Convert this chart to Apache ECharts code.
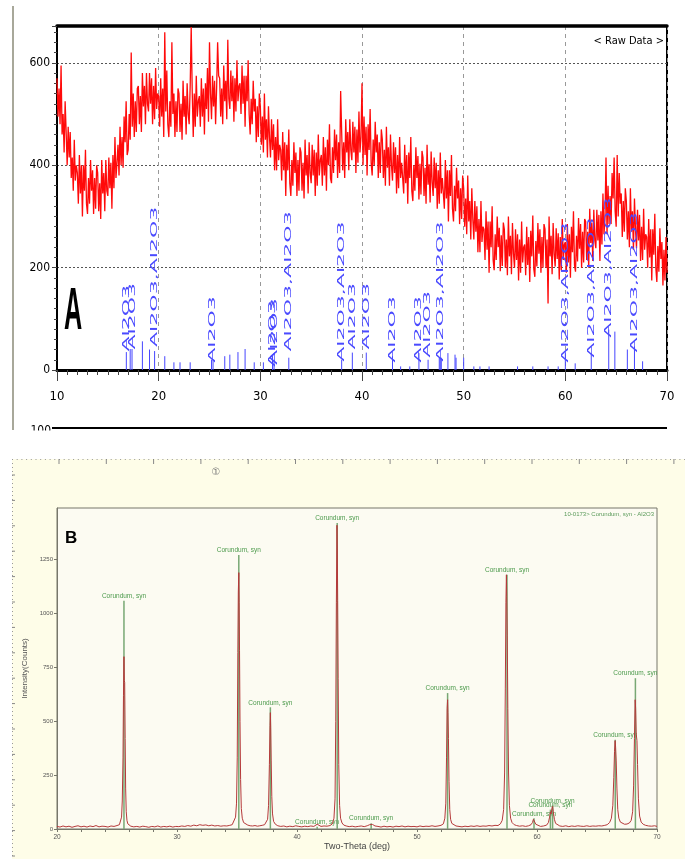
<!DOCTYPE html>
<html>
<head>
<meta charset="utf-8">
<script src="https://cdn.jsdelivr.net/npm/echarts/dist/echarts.min.js"></script>
<style>
html, body { margin: 0; padding: 0; background: #fff; }
#chart { width: 685px; height: 859px; }
</style>
</head>
<body>
<div id="chart"></div>
<script>
// ---- panel A: raw scan, 10..70 deg, step 0.1 ----
const rawStart = 10
const rawStep = 0.1
const rawCounts = [
  570,495,550,480,595,460,500,425,525,465,
  400,475,415,465,375,415,350,450,370,400,
  385,325,420,345,400,300,400,350,430,325,
  305,375,325,410,350,390,305,375,315,400,
  385,310,365,295,410,345,385,310,410,350,
  340,415,355,405,315,420,355,455,375,405,
  440,380,475,400,455,395,495,445,525,420,
  430,500,450,620,475,540,455,525,465,550,
  555,480,535,465,580,515,555,480,580,520,
  505,580,520,570,480,555,490,590,510,540,
  535,475,570,495,550,455,660,505,585,480,
  455,525,475,640,500,540,455,525,465,550,
  540,465,520,450,565,495,535,460,560,500,
  480,555,670,545,455,540,475,575,495,525,
  535,475,570,495,550,460,560,510,590,485,
  640,540,490,575,515,565,480,550,640,575,
  570,495,550,480,595,525,565,490,645,530,
  510,585,525,575,485,570,505,605,525,555,
  560,500,595,520,575,475,575,525,605,500,
  460,530,480,565,505,530,445,515,455,540,
  515,440,495,425,540,450,490,415,515,455,
  415,490,430,480,390,455,390,490,410,440,
  430,370,465,390,445,340,440,390,470,365,
  340,410,360,445,385,425,340,410,350,435,
  425,350,405,335,450,380,420,345,445,385,
  365,440,380,430,340,425,360,460,380,410,
  420,360,455,380,435,350,450,400,480,375,
  365,435,385,470,410,460,375,445,385,545,
  465,390,445,375,490,425,465,390,490,430,
  410,485,425,475,385,470,405,505,425,455,
  560,400,495,420,475,380,480,430,510,405,
  380,450,400,485,425,460,375,445,385,470,
  450,375,430,360,475,395,435,360,460,400,
  370,445,385,435,345,420,355,455,375,405,
  405,345,440,365,420,325,425,375,455,350,
  330,400,350,435,375,418,333,403,343,428,
  415,340,395,325,440,362,402,327,427,367,
  340,415,355,405,315,390,325,425,345,375,
  375,315,410,335,390,290,390,340,420,315,
  290,360,310,395,335,370,285,355,295,380,
  355,280,335,265,380,290,330,255,355,295,
  255,330,270,320,230,295,230,330,250,280,
  275,215,310,235,290,190,290,240,320,215,
  195,265,215,300,240,278,193,263,203,288,
  275,200,255,185,300,222,262,187,287,227,
  200,275,215,265,175,255,190,290,210,240,
  245,185,280,205,260,172,272,222,302,197,
  182,252,202,287,227,275,190,260,200,285,
  275,200,255,130,300,222,262,187,287,227,
  202,277,217,267,177,260,195,295,215,245,
  250,190,285,210,265,180,280,230,310,205,
  192,262,212,297,237,285,200,270,210,295,
  290,215,270,200,315,248,288,213,313,253,
  238,313,253,303,213,310,245,345,265,295,
  415,265,360,285,340,285,385,335,415,310,
  280,420,300,385,325,345,260,330,270,355,
  330,255,310,240,355,270,310,235,335,275,
  238,313,253,303,213,280,215,315,235,265,
  260,200,295,220,275,175,275,225,305,200,
  172,242,192,277,217,250,165,235,175,260,
  190
]

// reference pattern sticks (Al2O3)
const refPosA = [16.82,17.2,17.38,18.4,19.1,19.6,20.6,21.5,22.1,23.1,25.2,25.35,26.5,27.0,27.8,28.5,29.4,30.3,31.2,31.35,32.8,
  38.0,39.05,40.42,43.0,43.8,44.7,45.6,46.5,47.6,47.7,47.8,48.45,49.15,49.25,50.0,51.0,51.6,52.5,55.3,56.8,58.3,59.3,
  60.0,60.97,62.55,64.27,64.87,66.1,66.8,67.6]
const refIntA = [35,41,41,56,40,37,27,15,15,15,20,20,27,30,35,41,15,15,27,20,24,
  20,34,34,27,7,7,33,20,24,24,24,33,30,24,24,7,7,7,7,7,7,7,
  33,13,33,79,75,40,46,17]

// phase labels
const labelPosA = [16.85,17.4,19.65,25.3,31.2,31.4,32.8,38.0,39.05,40.42,43.0,45.6,46.5,47.7,60.0,62.55,64.27,66.8]
const labelBaseA = [36,40,45,14,6,10,36,16,40,40,14,14,24,16,14,24,63,34]
const labelTextA = ['Al2O3','Al2O3','Al2O3,Al2O3','Al2O3','Al2O3','Al2O3','Al2O3,Al2O3','Al2O3,Al2O3','Al2O3','Al2O3',
  'Al2O3','Al2O3','Al2O3','Al2O3,Al2O3','Al2O3,Al2O3','Al2O3,Al2O3','Al2O3,Al2O3','Al2O3,Al2O3']

// ---- panel B: processed scan [two-theta, counts] ----
const scanB = [
  [20,12],[20.25,9],[20.5,14],[20.75,10],[21,13],[21.25,8],[21.5,12],[21.75,15],[22,10],[22.25,13],[22.5,9],[22.75,14],
  [23,11],[23.25,16],[23.5,10],[23.75,13],[24,12],[24.25,9],[24.5,14],[24.75,12],[25,16],[25.2,20],[25.3,28],[25.38,55],
  [25.44,130],[25.5,330],[25.54,620],[25.58,800],[25.61,690],[25.64,680],[25.68,420],[25.72,190],[25.77,80],[25.83,40],
  [25.9,24],[26.0,17],[26.15,13],[26.4,10],[26.65,12],[26.9,9],[27.15,13],[27.4,11],[27.65,8],[27.9,12],[28.15,10],
  [28.4,14],[28.65,9],[28.9,12],[29.15,10],[29.4,13],[29.65,9],[29.9,12],[30.15,11],[30.4,14],[30.65,12],[30.9,16],
  [31.15,13],[31.4,18],[31.65,15],[31.9,20],[32.15,17],[32.4,19],[32.65,15],[32.9,18],[33.15,14],[33.4,16],[33.65,13],
  [33.9,15],[34.15,14],[34.4,17],[34.6,20],[34.75,28],[34.88,55],[34.96,120],[35.02,330],[35.07,820],[35.11,1100],
  [35.15,1190],[35.18,1050],[35.21,830],[35.25,500],[35.3,230],[35.36,95],[35.44,50],[35.55,30],[35.7,22],[35.9,18],
  [36.1,15],[36.3,14],[36.5,16],[36.7,13],[36.9,15],[37.1,17],[37.3,20],[37.45,28],[37.55,45],[37.63,110],[37.7,300],
  [37.75,480],[37.78,540],[37.81,470],[37.85,320],[37.9,150],[37.96,70],[38.05,35],[38.2,22],[38.4,15],[38.65,12],
  [38.9,14],[39.15,10],[39.4,13],[39.65,11],[39.9,15],[40.15,12],[40.4,10],[40.65,13],[40.9,11],[41.15,14],[41.4,12],
  [41.55,16],[41.68,22],[41.8,15],[42.0,12],[42.25,14],[42.5,13],[42.75,16],[42.95,24],[43.08,50],[43.17,140],
  [43.23,500],[43.28,1050],[43.33,1410],[43.36,1300],[43.39,1060],[43.43,700],[43.48,300],[43.55,110],[43.63,50],
  [43.75,28],[43.9,18],[44.1,14],[44.35,11],[44.6,13],[44.85,10],[45.1,12],[45.35,14],[45.6,11],[45.85,15],[46.05,20],
  [46.18,26],[46.3,21],[46.5,14],[46.75,12],[47.0,9],[47.25,13],[47.5,10],[47.75,12],[48.0,9],[48.25,13],[48.5,11],
  [48.75,14],[49.0,10],[49.25,13],[49.5,11],[49.75,12],[50.0,10],[50.25,14],[50.5,11],[50.75,13],[51.0,12],[51.25,15],
  [51.5,12],[51.75,14],[52.0,17],[52.2,24],[52.32,50],[52.4,120],[52.46,330],[52.51,560],[52.55,600],[52.58,540],
  [52.62,420],[52.67,220],[52.73,90],[52.8,45],[52.9,26],[53.05,18],[53.25,14],[53.5,12],[53.75,10],[54.0,13],
  [54.25,11],[54.5,14],[54.75,12],[55.0,15],[55.25,12],[55.5,14],[55.75,13],[56.0,16],[56.25,14],[56.5,17],[56.75,16],
  [56.95,24],[57.1,40],[57.22,90],[57.3,260],[57.36,650],[57.41,1050],[57.45,1180],[57.48,1080],[57.52,900],
  [57.57,560],[57.63,260],[57.7,110],[57.8,50],[57.92,30],[58.1,20],[58.3,16],[58.55,13],[58.8,15],[59.05,12],
  [59.3,15],[59.5,20],[59.62,30],[59.7,45],[59.75,52],[59.8,40],[59.9,22],[60.05,15],[60.3,12],[60.55,14],[60.8,18],
  [60.95,30],[61.05,55],[61.12,80],[61.18,70],[61.24,95],[61.3,105],[61.36,80],[61.45,45],[61.55,26],[61.7,17],
  [61.9,14],[62.15,12],[62.4,15],[62.65,11],[62.9,14],[63.15,12],[63.4,15],[63.65,13],[63.9,12],[64.15,15],[64.4,12],
  [64.65,14],[64.9,13],[65.15,15],[65.4,14],[65.65,17],[65.85,20],[66.05,30],[66.2,50],[66.32,110],[66.4,240],
  [66.46,360],[66.51,410],[66.55,380],[66.6,320],[66.66,190],[66.73,90],[66.82,50],[66.95,32],[67.1,25],[67.3,22],
  [67.5,23],[67.7,28],[67.85,40],[67.97,80],[68.05,200],[68.12,420],[68.18,600],[68.22,560],[68.27,440],[68.33,410],
  [68.38,300],[68.45,140],[68.55,60],[68.68,32],[68.85,22],[69.05,17],[69.3,14],[69.55,13],[69.8,15],[70,12]
]

// Corundum reference lines (10-0173)
const peakPosB = [25.58,35.15,37.78,41.68,43.35,46.18,52.55,57.5,59.75,61.12,61.3,66.52,68.2]
const peakIntB = [1060,1272,565,10,1420,27,631,1180,50,90,110,414,700]
const peakName = 'Corundum, syn'

const narrow = '"Liberation Sans Narrow", "DejaVu Sans Condensed", "Liberation Sans", sans-serif'

const chart = echarts.init(document.getElementById('chart'))

// decoration of the B frame (rulers)
const deco = []
deco.push({ type: 'rect', z: -10, silent: true, shape: { x: 12, y: 459, width: 673, height: 400 }, style: { fill: '#fefde8' } })
deco.push({ type: 'line', silent: true, shape: { x1: 12, y1: 459.5, x2: 685, y2: 459.5 }, style: { stroke: '#999', lineWidth: 1, lineDash: [1, 3.7] } })
deco.push({ type: 'line', silent: true, shape: { x1: 12.5, y1: 459, x2: 12.5, y2: 859 }, style: { stroke: '#999', lineWidth: 1, lineDash: [1, 3] } })
for (let x = 59; x < 685; x += 47.3) {
  deco.push({ type: 'line', silent: true, shape: { x1: x, y1: 459, x2: x, y2: 464 }, style: { stroke: '#888', lineWidth: 1 } })
}
for (let y = 475; y < 859; y += 25.4) {
  deco.push({ type: 'line', silent: true, shape: { x1: 12, y1: y, x2: 15, y2: y }, style: { stroke: '#888', lineWidth: 1 } })
}

const option = {
  animation: false,
  backgroundColor: '#fff',
  grid: [
    { left: 57, top: 26, width: 610, height: 344, show: true, borderColor: '#000', borderWidth: 2, backgroundColor: '#fff' },
    { left: 57, top: 508, width: 600, height: 321, show: true, borderColor: '#77776b', borderWidth: 1, backgroundColor: '#fcfbf2' }
  ],
  xAxis: [
    {
      gridIndex: 0, type: 'value', min: 10, max: 70, interval: 10,
      axisLine: { lineStyle: { color: '#000', width: 3 } },
      axisTick: { length: 11, lineStyle: { color: '#444' } },
      minorTick: { show: true, splitNumber: 10, length: 5, lineStyle: { color: '#444' } },
      axisLabel: { margin: 20, fontSize: 13, color: '#000', fontFamily: narrow },
      splitLine: { show: true, lineStyle: { color: '#999', type: [4, 4] } }
    },
    {
      gridIndex: 0, type: 'value', position: 'top', min: 10, max: 70,
      axisLine: { lineStyle: { color: '#000', width: 3.5 } },
      axisTick: { show: false }, axisLabel: { show: false }, splitLine: { show: false }
    },
    {
      gridIndex: 1, type: 'value', min: 20, max: 70, interval: 10,
      name: 'Two-Theta (deg)', nameLocation: 'middle', nameGap: 13,
      nameTextStyle: { fontSize: 9, color: '#444', fontFamily: 'Liberation Sans' },
      axisLine: { lineStyle: { color: '#77776b', width: 1 } },
      axisTick: { length: 3, lineStyle: { color: '#77776b' } },
      minorTick: { show: true, splitNumber: 5, length: 3, lineStyle: { color: '#77776b' } },
      axisLabel: { margin: 5, fontSize: 6.5, color: '#555' },
      splitLine: { show: false }
    }
  ],
  yAxis: [
    {
      gridIndex: 0, type: 'value', min: 0, max: 672, interval: 200,
      axisLine: { show: true, lineStyle: { color: '#000', width: 2 } },
      axisTick: { show: true, length: 5, lineStyle: { color: '#444' } },
      minorTick: { show: true, splitNumber: 10, length: 3, lineStyle: { color: '#444' } },
      axisLabel: { margin: 7, fontSize: 12, color: '#000', fontFamily: narrow, showMaxLabel: false },
      splitLine: { show: true, lineStyle: { color: '#555', type: [2, 2] } }
    },
    {
      gridIndex: 1, type: 'value', min: 0, max: 1490, interval: 250,
      name: 'Intensity(Counts)', nameLocation: 'middle', nameGap: 20,
      nameTextStyle: { fontSize: 8, color: '#555', fontFamily: 'Liberation Sans' },
      axisLine: { show: true, lineStyle: { color: '#77776b', width: 1 } },
      axisTick: { show: true, length: 3, lineStyle: { color: '#77776b' } },
      axisLabel: { margin: 4, fontSize: 6, color: '#555', showMaxLabel: false, formatter: (v) => String(v) },
      splitLine: { show: false }
    }
  ],
  graphic: deco.concat([
    { type: 'line', silent: true, shape: { x1: 13, y1: 6, x2: 13, y2: 430 }, style: { stroke: '#8b8b78', lineWidth: 1.5 } },
    { type: 'text', silent: true, x: 51, y: 431, style: { text: '100', font: '12px ' + narrow, fill: '#000', align: 'right', verticalAlign: 'middle' } },
    { type: 'line', silent: true, shape: { x1: 52, y1: 428, x2: 667, y2: 428 }, style: { stroke: '#000', lineWidth: 2 } },
    { type: 'rect', silent: true, z: 5, shape: { x: 0, y: 430.5, width: 685, height: 28 }, style: { fill: '#fff' } },
    { type: 'text', silent: true, x: 664, y: 41, style: { text: '< Raw Data >', font: '11px ' + narrow, fill: '#000', align: 'right', verticalAlign: 'middle' } },
    { type: 'text', silent: true, x: 64, y: 312, scaleX: 0.42, style: { text: 'A', font: 'bold 60px "Liberation Sans", Arial, sans-serif', fill: '#000', align: 'left', verticalAlign: 'middle' } },
    { type: 'text', silent: true, x: 65, y: 538, style: { text: 'B', font: 'bold 17px "Liberation Sans", Arial, sans-serif', fill: '#000', align: 'left', verticalAlign: 'middle' } },
    { type: 'text', silent: true, x: 216, y: 472, style: { text: '①', font: '10px "DejaVu Sans", sans-serif', fill: '#777', align: 'center', verticalAlign: 'middle' } },
    { type: 'text', silent: true, z: 10, x: 654, y: 514, style: { text: '10-0173> Corundum, syn - Al2O3', font: '6px "Liberation Sans", sans-serif', fill: '#5a9a5a', align: 'right', verticalAlign: 'middle' } }
  ]),
  series: [
    {
      type: 'line', xAxisIndex: 0, yAxisIndex: 0, symbol: 'none', z: 2,
      data: rawCounts.map((v, i) => [rawStart + i * rawStep, v]),
      lineStyle: { color: '#ff0a0a', width: 1.3 }
    },
    {
      type: 'custom', xAxisIndex: 0, yAxisIndex: 0, z: 3,
      data: refPosA.map((x, i) => [x, refIntA[i]]),
      renderItem: (params, api) => {
        const top = api.coord([api.value(0), api.value(1)])
        const base = api.coord([api.value(0), 0])
        return { type: 'line', shape: { x1: top[0], y1: base[1], x2: top[0], y2: top[1] }, style: { stroke: '#4646ff', lineWidth: 1 } }
      }
    },
    {
      type: 'custom', xAxisIndex: 0, yAxisIndex: 0, z: 4,
      data: labelPosA.map((x, i) => [x, labelBaseA[i]]),
      renderItem: (params, api) => {
        const p = api.coord([api.value(0), api.value(1)])
        return {
          type: 'text', x: p[0], y: p[1], rotation: Math.PI / 2, scaleX: 2.45, scaleY: 1,
          style: { text: labelTextA[params.dataIndex], font: '9px "DejaVu Sans", sans-serif', fill: '#4a4aff', align: 'left', verticalAlign: 'middle' }
        }
      }
    },
    {
      type: 'custom', xAxisIndex: 2, yAxisIndex: 1, z: 2,
      data: peakPosB.map((x, i) => [x, peakIntB[i]]),
      renderItem: (params, api) => {
        const top = api.coord([api.value(0), api.value(1)])
        const base = api.coord([api.value(0), 0])
        return {
          type: 'group',
          children: [
            { type: 'line', shape: { x1: top[0], y1: base[1], x2: top[0], y2: top[1] }, style: { stroke: '#78a874', lineWidth: 1.5 } },
            { type: 'text', x: top[0], y: top[1] - 1, style: { text: peakName, font: '6.5px "Liberation Sans", sans-serif', fill: '#4c9a4c', align: 'center', verticalAlign: 'bottom' } }
          ]
        }
      }
    },
    {
      type: 'line', xAxisIndex: 2, yAxisIndex: 1, symbol: 'none', z: 3,
      data: scanB,
      lineStyle: { color: '#b5393a', width: 1 }
    }
  ]
}

chart.setOption(option)
</script>
</body>
</html>
